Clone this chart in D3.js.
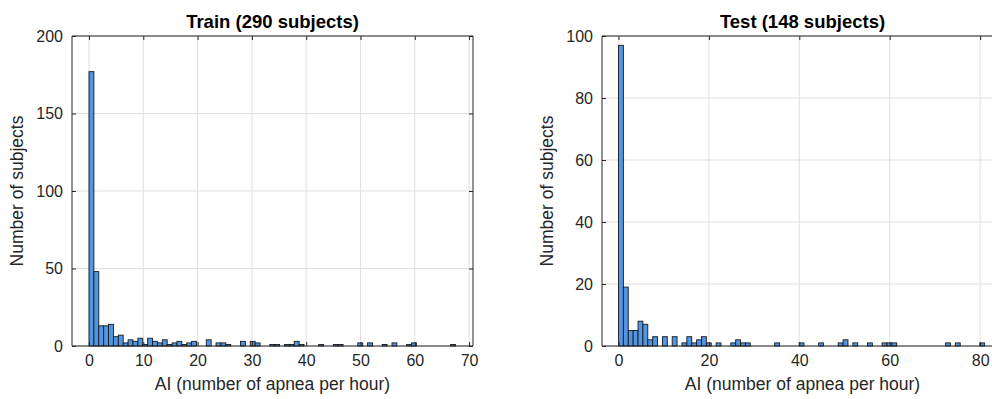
<!DOCTYPE html>
<html>
<head>
<meta charset="utf-8">
<script src="https://cdn.jsdelivr.net/npm/d3@7"></script>
<style>
  html, body { margin: 0; padding: 0; background: #fff; overflow: hidden; }
  svg { display: block; font-family: "Liberation Sans", Arial, Helvetica, sans-serif; }
</style>
</head>
<body>
<svg id="chart" width="992" height="399"></svg>
<script>
// ---- Data ----
const trainTitle = "Train (290 subjects)";
const testTitle = "Test (148 subjects)";
const xLabel = "AI (number of apnea per hour)";
const yLabel = "Number of subjects";

const trainBinWidth = 0.9;
const trainCounts = [177,48,13,13,14,6,7,2,4,3,5,1,5,3,2,4,1,2,3,1,2,3,0,0,4,0,2,2,1,0,
                     0,3,0,3,2,0,0,1,1,0,1,1,3,1,0,0,0,1,0,0,1,1,0,0,0,2,0,2,0,0,
                     1,0,2,0,0,1,2,0,0,0,0,0,0,0,1];
const trainXTicks = [0,10,20,30,40,50,60,70];
const trainYTicks = [0,50,100,150,200];

const testBinWidth = 1.08;
const testCounts = [97,19,5,5,8,7,2,3,0,3,0,3,0,1,3,1,2,3,1,0,1,0,0,1,2,1,1,0,0,0,
                    0,0,1,0,0,0,0,1,0,0,0,1,0,0,0,1,2,0,1,0,0,1,0,0,1,1,1,0,0,0,
                    0,0,0,0,0,0,0,1,0,1,0,0,0,0,1];
const testXTicks = [0,20,40,60,80];
const testYTicks = [0,20,40,60,80,100];

// ---- Drawing ----
const svg = d3.select("#chart");
const textColor = "#262626";
const barFill = "#5196e2";

function panel(opts) {
  const {left, top, width, height, xDomain, yDomain, counts, binWidth, xTicks, yTicks, title} = opts;
  const g = svg.append("g");
  const x = d3.scaleLinear().domain(xDomain).range([left, left + width]);
  const y = d3.scaleLinear().domain(yDomain).range([top + height, top]);

  // grid
  g.append("g").selectAll("line.gx").data(xTicks).join("line")
    .attr("x1", d => x(d)).attr("x2", d => x(d))
    .attr("y1", top).attr("y2", top + height)
    .attr("stroke", "#dfdfdf").attr("stroke-width", 1);
  g.append("g").selectAll("line.gy").data(yTicks).join("line")
    .attr("x1", left).attr("x2", left + width)
    .attr("y1", d => y(d)).attr("y2", d => y(d))
    .attr("stroke", "#dfdfdf").attr("stroke-width", 1);

  // bars
  const bins = counts.map((c, i) => ({x0: i * binWidth, x1: (i + 1) * binWidth, c}))
                     .filter(b => b.c > 0);
  g.append("g").selectAll("rect").data(bins).join("rect")
    .attr("x", d => x(d.x0))
    .attr("width", d => x(d.x1) - x(d.x0))
    .attr("y", d => y(d.c))
    .attr("height", d => y(0) - y(d.c))
    .attr("fill", barFill)
    .attr("stroke", "#1a1a1a")
    .attr("stroke-width", 0.9);

  // axes with MATLAB-style inward ticks on all sides
  const tl = 4;
  const axB = d3.axisBottom(x).tickValues(xTicks).tickSize(-tl).tickPadding(9).tickFormat(d3.format("d"));
  const axT = d3.axisTop(x).tickValues(xTicks).tickSize(-tl).tickFormat("");
  const axL = d3.axisLeft(y).tickValues(yTicks).tickSize(-tl).tickPadding(9).tickFormat(d3.format("d"));
  const axR = d3.axisRight(y).tickValues(yTicks).tickSize(-tl).tickFormat("");

  const gb = g.append("g").attr("transform", `translate(0,${top + height})`).call(axB);
  const gt = g.append("g").attr("transform", `translate(0,${top})`).call(axT);
  const gl = g.append("g").attr("transform", `translate(${left},0)`).call(axL);
  const gr = g.append("g").attr("transform", `translate(${left + width},0)`).call(axR);
  [gb, gt, gl, gr].forEach(a => {
    a.select(".domain").attr("stroke", textColor).attr("stroke-width", 1);
    a.selectAll(".tick line").attr("stroke", textColor).attr("stroke-width", 1);
    a.selectAll(".tick text").attr("fill", textColor)
      .style("font-size", "16px").style("font-family", "'Liberation Sans', Arial, sans-serif");
  });
  [gb, gt].forEach(a => a.select(".domain").attr("d", `M${left},0H${left + width}`));
  [gl, gr].forEach(a => a.select(".domain").attr("d", `M0,${top}V${top + height}`));

  // title
  g.append("text")
    .attr("x", left + width / 2).attr("y", 28)
    .attr("text-anchor", "middle")
    .attr("fill", "#000")
    .style("font-size", "18.5px").style("font-weight", "bold")
    .text(title);
  // x label
  g.append("text")
    .attr("x", left + width / 2).attr("y", 390)
    .attr("text-anchor", "middle")
    .attr("fill", textColor)
    .style("font-size", "17.5px")
    .text(xLabel);
  // y label
  g.append("text")
    .attr("transform", `translate(${left - 49},${top + height / 2}) rotate(-90)`)
    .attr("text-anchor", "middle")
    .attr("fill", textColor)
    .style("font-size", "17.5px")
    .text(yLabel);
}

panel({left: 72, top: 36, width: 401, height: 310,
       xDomain: [-3.13, 70.72], yDomain: [0, 200],
       counts: trainCounts, binWidth: trainBinWidth,
       xTicks: trainXTicks, yTicks: trainYTicks, title: trainTitle});

panel({left: 602, top: 36, width: 401, height: 310,
       xDomain: [-3.65, 85.06], yDomain: [0, 100],
       counts: testCounts, binWidth: testBinWidth,
       xTicks: testXTicks, yTicks: testYTicks, title: testTitle});
</script>
</body>
</html>
